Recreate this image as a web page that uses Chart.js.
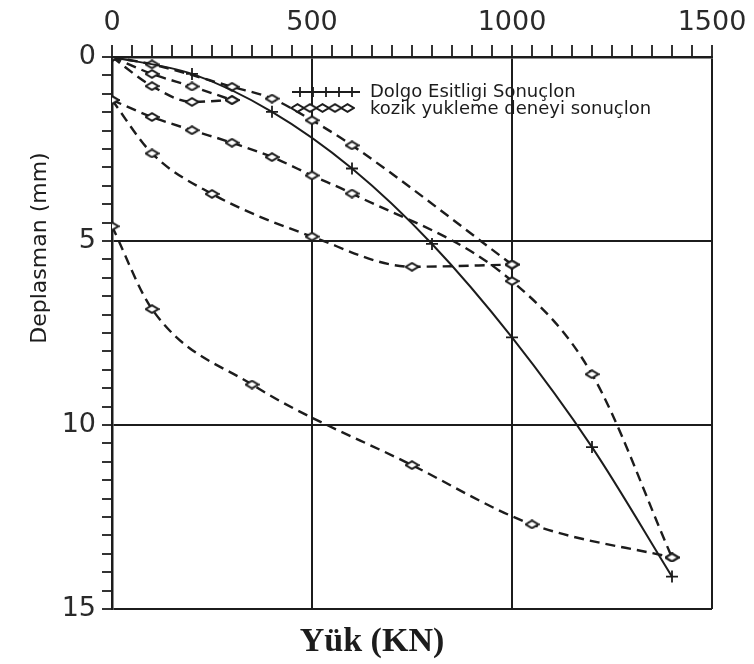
<!DOCTYPE html>
<html>
<head>
<meta charset="utf-8">
<script src="https://cdn.jsdelivr.net/npm/chart.js@4.4.1/dist/chart.umd.min.js"></script>
<style>
	body { margin: 0; background: #fff; }
	#wrap { width: 754px; height: 664px; }
</style>
</head>
<body>
<div id="wrap"><canvas id="yukChart" width="754" height="664"></canvas></div>
<script>
// tick labels
var loadTicks = [0, 500, 1000, 1500];
var dispTicks = [0, 5, 10, 15];

// Dolgo Esitligi (solid line, + markers)
var dalgaLoad = [0, 200, 400, 600, 800, 1000, 1200, 1400];
var dalgaDisp = [0, 0.46, 1.49, 3.03, 5.08, 7.62, 10.6, 14.12];

// kazik yukleme deneyi (dashed curves, diamond markers)
var kazik1Load = [0, 100, 300, 400, 500, 600, 1000];
var kazik1Disp = [0, 0.2, 0.81, 1.13, 1.72, 2.4, 5.64];

var kazik2Load = [0, 100, 200, 300];
var kazik2Disp = [0, 0.46, 0.8, 1.17];

var kazik3Load = [0, 100, 200, 300];
var kazik3Disp = [0, 0.79, 1.22, 1.17];

var kazik4Load = [0, 100, 200, 300, 400, 500, 600, 1000, 1200, 1400];
var kazik4Disp = [1.17, 1.63, 1.99, 2.33, 2.72, 3.22, 3.71, 6.09, 8.62, 13.6];

var kazik5Load = [0, 100, 250, 500, 750, 1000];
var kazik5Disp = [1.17, 2.62, 3.72, 4.88, 5.7, 5.64];

var kazik6Load = [0, 100, 350, 750, 1050, 1400];
var kazik6Disp = [4.6, 6.85, 8.9, 11.09, 12.7, 13.6];

var ink = '#1c1c1c';

function toPoints(xs, ys) {
	var pts = [];
	for (var i = 0; i < xs.length; i++) {
		pts.push({x: xs[i], y: ys[i]});
	}
	return pts;
}

function diamondImg(w, h) {
	var c = document.createElement('canvas');
	c.width = w; c.height = h;
	var g = c.getContext('2d');
	g.fillStyle = '#fff';
	g.strokeStyle = ink;
	g.lineWidth = 2;
	g.beginPath();
	g.moveTo(1.2, h / 2);
	g.lineTo(w / 2, 1.2);
	g.lineTo(w - 1.2, h / 2);
	g.lineTo(w / 2, h - 1.2);
	g.closePath();
	g.fill();
	g.stroke();
	return c;
}

var diamond = diamondImg(15, 10);

function kazikSet(xs, ys) {
	return {
		data: toPoints(xs, ys),
		borderColor: ink,
		borderWidth: 2.4,
		borderDash: [10, 6],
		pointStyle: diamond,
		cubicInterpolationMode: 'monotone',
		order: 2
	};
}

function isMultiple(v, step) {
	return Math.abs(v / step - Math.round(v / step)) < 1e-6;
}

var textPlugin = {
	id: 'textPlugin',
	afterDraw: function(chart) {
		var ctx = chart.ctx;
		var area = chart.chartArea;
		ctx.save();
		ctx.fillStyle = ink;
		ctx.strokeStyle = ink;

		// y title
		ctx.save();
		ctx.translate(40, 248);
		ctx.rotate(-Math.PI / 2);
		ctx.font = '22px "DejaVu Sans"';
		ctx.textAlign = 'center';
		ctx.textBaseline = 'middle';
		ctx.fillText('Deplasman (mm)', 0, 0);
		ctx.restore();

		// x title
		ctx.font = 'bold 34px "Liberation Serif"';
		ctx.textAlign = 'center';
		ctx.textBaseline = 'alphabetic';
		ctx.fillText('Yük (KN)', 372, 651);

		// legend
		var lx = area.left + 180;
		var ly1 = area.top + 35;
		var ly2 = area.top + 51;
		ctx.lineWidth = 1.8;
		ctx.beginPath();
		ctx.moveTo(lx, ly1);
		ctx.lineTo(lx + 68, ly1);
		for (var i = 0; i < 5; i++) {
			var cx = lx + 8 + i * 13;
			ctx.moveTo(cx, ly1 - 5);
			ctx.lineTo(cx, ly1 + 5);
		}
		ctx.stroke();
		for (var j = 0; j < 5; j++) {
			ctx.drawImage(diamond, lx - 2 + j * 12.5, ly2 - 5);
		}
		ctx.font = '18px "DejaVu Sans"';
		ctx.textAlign = 'left';
		ctx.textBaseline = 'middle';
		ctx.fillText('Dolgo Esitligi Sonuçlon', lx + 78, ly1);
		ctx.fillText('kozik yukleme deneyi sonuçlon', lx + 78, ly2 + 1);
		ctx.restore();
	}
};

var ctx = document.getElementById('yukChart');

new Chart(ctx, {
	type: 'line',
	data: {
		datasets: [
			{
				data: toPoints(dalgaLoad, dalgaDisp),
				borderColor: ink,
				borderWidth: 2,
				pointStyle: 'cross',
				pointRadius: 6,
				pointBorderWidth: 1.8,
				pointBorderColor: ink,
				cubicInterpolationMode: 'monotone',
				order: 1
			},
			kazikSet(kazik1Load, kazik1Disp),
			kazikSet(kazik2Load, kazik2Disp),
			kazikSet(kazik3Load, kazik3Disp),
			kazikSet(kazik4Load, kazik4Disp),
			kazikSet(kazik5Load, kazik5Disp),
			kazikSet(kazik6Load, kazik6Disp)
		]
	},
	options: {
		responsive: false,
		animation: false,
		layout: { padding: { left: 0, right: 42, top: 0, bottom: 55 } },
		plugins: {
			legend: { display: false },
			tooltip: { enabled: false },
			title: { display: false }
		},
		scales: {
			x: {
				type: 'linear',
				position: 'top',
				min: 0,
				max: 1500,
				afterFit: function(scale) { scale.height = 57; },
				border: { color: ink, width: 2.5 },
				grid: {
					color: function(c) { return isMultiple(c.tick.value, 500) ? ink : 'rgba(0,0,0,0)'; },
					lineWidth: 2,
					tickColor: ink,
					tickLength: 12,
					tickWidth: 1.8
				},
				ticks: {
					stepSize: 50,
					autoSkip: false,
					maxRotation: 0,
					padding: 6,
					color: '#2a2a2a',
					font: { family: 'DejaVu Sans', size: 27 },
					callback: function(v) { return loadTicks.indexOf(v) >= 0 ? String(v) : ''; }
				}
			},
			y: {
				type: 'linear',
				reverse: true,
				min: 0,
				max: 15,
				afterFit: function(scale) { scale.width = 112; },
				border: { color: ink, width: 2.5 },
				grid: {
					color: function(c) { return isMultiple(c.tick.value, 5) ? ink : 'rgba(0,0,0,0)'; },
					lineWidth: 2,
					tickColor: ink,
					tickLength: 10,
					tickWidth: 1.8
				},
				ticks: {
					stepSize: 0.5,
					autoSkip: false,
					padding: 6,
					color: '#2a2a2a',
					font: { family: 'DejaVu Sans', size: 27 },
					callback: function(v) {
						for (var i = 0; i < dispTicks.length; i++) {
							if (Math.abs(dispTicks[i] - v) < 1e-6) return String(dispTicks[i]);
						}
						return '';
					}
				}
			}
		}
	},
	plugins: [textPlugin]
});
</script>
</body>
</html>
